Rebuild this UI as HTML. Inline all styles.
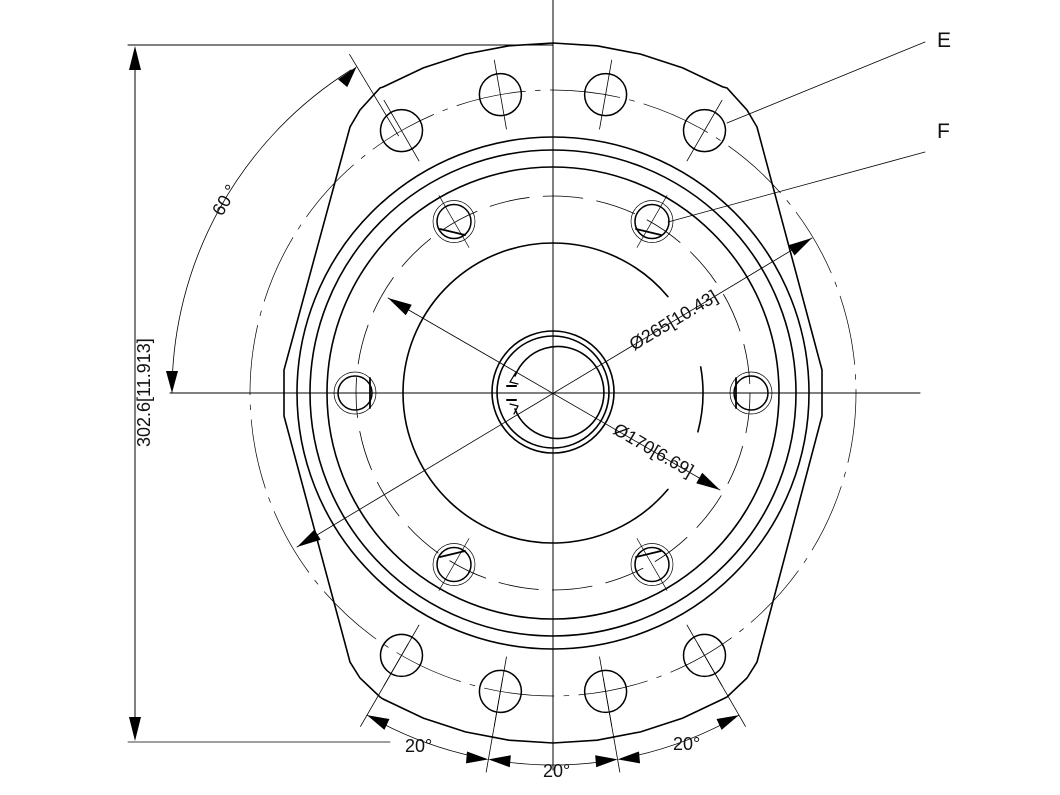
<!DOCTYPE html>
<html><head><meta charset="utf-8"><style>
html,body{margin:0;padding:0;background:#fff;width:1060px;height:795px;overflow:hidden}
svg{display:block}
text{font-family:"Liberation Sans",sans-serif;fill:#111}
</style></head><body>
<svg id="s" width="1060" height="795" viewBox="0 0 1060 795" xmlns="http://www.w3.org/2000/svg">
<g id="g" fill="none" stroke="#000" stroke-linecap="round"></g>
<text x="0" y="0" font-size="18" transform="translate(150,447) rotate(-90)">302.6[11.913]</text>
<text x="0" y="0" font-size="18" transform="translate(222,217) rotate(-60)">60 °</text>
<text x="0" y="0" font-size="18" transform="translate(634,351) rotate(-31)">Ø265[10.43]</text>
<text x="0" y="0" font-size="18" transform="translate(612,433) rotate(30)">Ø170[6.69]</text>
<text x="405" y="752" font-size="18">20°</text>
<text x="543" y="777" font-size="18">20°</text>
<text x="673" y="750" font-size="18">20°</text>
<text x="937" y="47" font-size="21">E</text>
<text x="937" y="138" font-size="21">F</text>
</svg>
<script>
var cx=553,cy=393,g=document.getElementById('g'),NS='http://www.w3.org/2000/svg';
function el(t,a){var e=document.createElementNS(NS,t);for(var k in a)e.setAttribute(k,a[k]);g.appendChild(e);return e;}
function P(r,t){t=t*Math.PI/180;return [cx+r*Math.sin(t),cy-r*Math.cos(t)];}
function line(x1,y1,x2,y2,w){el('line',{x1:x1,y1:y1,x2:x2,y2:y2,'stroke-width':w||0.8});}
function circ(x,y,r,w,d){var a={cx:x,cy:y,r:r,'stroke-width':w||1.5};if(d)a['stroke-dasharray']=d;el('circle',a);}
function arc(r,a1,a2,w,d){var p1=P(r,a1),p2=P(r,a2);var large=(a2-a1)>180?1:0;var a={d:'M'+p1+' A'+r+' '+r+' 0 '+large+' 1 '+p2,'stroke-width':w||1.5};if(d)a['stroke-dasharray']=d;el('path',a);}
function arrow(x,y,ang,len){len=len||22;var a=ang*Math.PI/180,w=6;var bx=x-len*Math.cos(a),by=y-len*Math.sin(a);var nx=-Math.sin(a)*w,ny=Math.cos(a)*w;el('polygon',{points:x+','+y+' '+(bx+nx)+','+(by+ny)+' '+(bx-nx)+','+(by-ny),fill:'#000',stroke:'none'});}
var pts=[];
function addArc(r,a1,a2,n){for(var i=0;i<=n;i++){pts.push(P(r,a1+(a2-a1)*i/n));}}
addArc(350,-29,29,8);pts.push([727,88]);pts.push([747,110]);pts.push([757,127]);pts.push([822,370]);pts.push([822,416]);pts.push([757,662]);pts.push([747,678]);pts.push([727,697]);
addArc(350,151,209,8);pts.push([380,697]);pts.push([360,678]);pts.push([350,662]);pts.push([284,416]);pts.push([284,370]);pts.push([350,127]);pts.push([360,110]);pts.push([380,88]);
el('polygon',{points:pts.map(function(p){return p.join(',')}).join(' '),'stroke-width':1.6});
circ(cx,cy,256,1.6);circ(cx,cy,243,1.6);circ(cx,cy,226,1.6);
arc(150,130,410,1.6);arc(150,80,105,1.6);
circ(cx,cy,303,0.7,'70 10 5 10');circ(cx,cy,197,0.8,'40 14');
[-30,-10,10,30,150,170,190,210].forEach(function(t){var p=P(303,t);circ(p[0],p[1],21,1.5);
 var q1=P(303-35,t),q2=P(303+35,t);line(q1[0],q1[1],q2[0],q2[1],0.8);});
[-30,30,90,150,210,270].forEach(function(t){var p=P(198,t);circ(p[0],p[1],17,1.5);circ(p[0],p[1],21,0.7);
 var q1=P(198-30,t),q2=P(198+30,t);line(q1[0],q1[1],q2[0],q2[1],0.7);});
[[455,222],[651,222]].forEach(function(p){line(p[0]-15,p[1]+7,p[0]+10,p[1]+13,1.8);});
[[455,564],[651,564]].forEach(function(p){line(p[0]-15,p[1]-7,p[0]+10,p[1]-13,1.8);});
line(370,378,370,408,1.8);line(736,378,736,408,1.8);
circ(cx,392,61,1.6);circ(cx,392,56,1.6);
el('path',{d:'M515,376 A46 46 0 1 1 515,409','stroke-width':1.6});
el('path',{d:'M516,372 l-6,10 l8,2','stroke-width':1.2});el('path',{d:'M510,404 l8,2 l-4,8','stroke-width':1.2});
line(507,386,516,386,2);line(507,400,516,400,2);
line(cx,0,cx,770,1);
line(170,393,920,393,1);
line(128,45,553,45,1);line(128,742,390,742,0.8);
line(135,50,135,738,1);arrow(135,46,-90,24);arrow(135,741,90,24);
arc(381,-90,-32,0.8);arrow(172,393,90,22);
(function(){var p=P(381,-31);arrow(p[0],p[1],-50,22);var a=P(300,-31),b=P(395,-31);line(a[0],a[1],b[0],b[1],0.8);})();
line(297,547,812,238,0.8);arrow(812,238,-31,24);arrow(297,547,149,24);
line(388,298,720,490,0.8);arrow(388,298,-150,24);arrow(720,490,30,24);
line(727,123,925,42,0.8);line(668,222,925,152,0.8);
[150,170,190,210].forEach(function(t){var a=P(290,t),b=P(385,t);line(a[0],a[1],b[0],b[1],0.8);});
arc(372,150,168,0.8);arc(372,172,188,0.8);arc(372,192,210,0.8);
(function(){var p;p=P(372,150);arrow(p[0],p[1],-25,22);p=P(372,170);arrow(p[0],p[1],-5,22);
 p=P(372,210);arrow(p[0],p[1],205,22);p=P(372,190);arrow(p[0],p[1],185,22);
 p=P(372,170);arrow(p[0],p[1],175,22);p=P(372,190);arrow(p[0],p[1],5,22);})();
</script>
</body></html>
